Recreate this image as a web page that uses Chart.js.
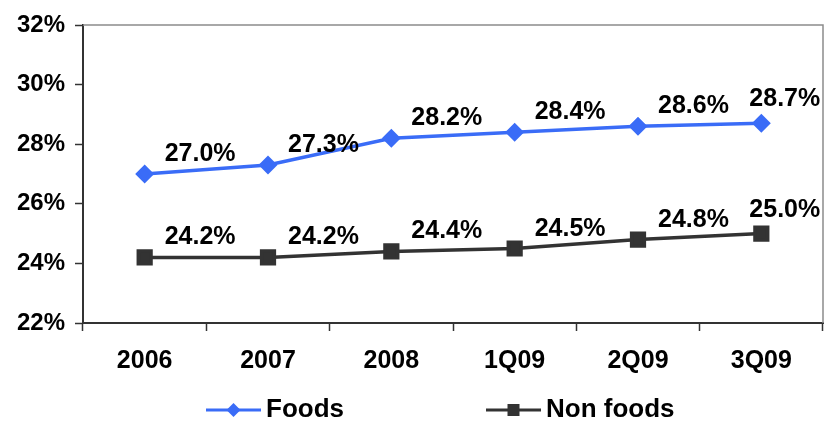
<!DOCTYPE html>
<html>
<head>
<meta charset="utf-8">
<script src="https://cdn.jsdelivr.net/npm/chart.js@4.4.1/dist/chart.umd.min.js"></script>
<style>
  html, body { margin: 0; padding: 0; background: #fff; }
  #wrap { width: 825px; height: 422px; }
</style>
</head>
<body>
<div id="wrap"><canvas id="myChart" width="825" height="422"></canvas></div>
<script>
// chart values
var periods = ['2006', '2007', '2008', '1Q09', '2Q09', '3Q09'];
var foods = [27.0, 27.3, 28.2, 28.4, 28.6, 28.7];
var nonFoods = [24.2, 24.2, 24.4, 24.5, 24.8, 25.0];
var yTicks = [22, 24, 26, 28, 30, 32];

var FONT = '"Liberation Sans", Arial, sans-serif';

// percent labels next to each point
var pointLabels = {
    id: 'pointLabels',
    afterDatasetsDraw: function(chart) {
        var ctx = chart.ctx;
        ctx.save();
        ctx.font = 'bold 25px ' + FONT;
        ctx.fillStyle = '#000';
        ctx.textAlign = 'left';
        ctx.textBaseline = 'alphabetic';
        chart.data.datasets.forEach(function(ds, i) {
            var meta = chart.getDatasetMeta(i);
            meta.data.forEach(function(pt, j) {
                var last = j == meta.data.length - 1;
                var dx = last ? -12 : 20;
                var dy = last ? -17 : -13;
                ctx.fillText(ds.data[j].toFixed(1) + '%', pt.x + dx, pt.y + dy);
            });
        });
        ctx.restore();
    }
};

// grey frame round the plot area
var plotFrame = {
    id: 'plotFrame',
    beforeDatasetsDraw: function(chart) {
        var a = chart.chartArea;
        var ctx = chart.ctx;
        ctx.save();
        ctx.strokeStyle = '#8c8c8c';
        ctx.lineWidth = 1.5;
        ctx.beginPath();
        ctx.moveTo(a.left, a.top);
        ctx.lineTo(a.right, a.top);
        ctx.lineTo(a.right, a.bottom);
        ctx.stroke();
        ctx.restore();
    }
};

// legend: line with marker, then name
var lineLegend = {
    id: 'lineLegend',
    afterDraw: function(chart) {
        var ctx = chart.ctx;
        var y = 410;
        var items = [{x: 206, ds: chart.data.datasets[0]}, {x: 486, ds: chart.data.datasets[1]}];
        ctx.save();
        items.forEach(function(it) {
            var cx = it.x + 27.5;
            ctx.strokeStyle = it.ds.borderColor;
            ctx.fillStyle = it.ds.borderColor;
            ctx.lineWidth = 3;
            ctx.beginPath();
            ctx.moveTo(it.x, y);
            ctx.lineTo(it.x + 55, y);
            ctx.stroke();
            ctx.beginPath();
            if (it.ds.pointStyle == 'rect') {
                ctx.rect(cx - 6, y - 6, 12, 12);
            } else {
                ctx.moveTo(cx, y - 7);
                ctx.lineTo(cx + 7, y);
                ctx.lineTo(cx, y + 7);
                ctx.lineTo(cx - 7, y);
                ctx.closePath();
            }
            ctx.fill();
            ctx.fillStyle = '#000';
            ctx.font = 'bold 26px ' + FONT;
            ctx.textBaseline = 'middle';
            ctx.textAlign = 'left';
            ctx.fillText(it.ds.label, it.x + 60, y);
        });
        ctx.restore();
    }
};

var ctx = document.getElementById('myChart').getContext('2d');
var chart = new Chart(ctx, {
    type: 'line',
    data: {
        labels: periods,
        datasets: [{
            label: 'Foods',
            data: foods,
            borderColor: '#3a6cf7',
            backgroundColor: '#3a6cf7',
            borderWidth: 3.5,
            pointStyle: 'rectRot',
            pointRadius: 7,
            pointHoverRadius: 7,
            fill: false,
            tension: 0
        }, {
            label: 'Non foods',
            data: nonFoods,
            borderColor: '#333333',
            backgroundColor: '#333333',
            borderWidth: 3.5,
            pointStyle: 'rect',
            pointRadius: 9,
            pointHoverRadius: 9,
            fill: false,
            tension: 0
        }]
    },
    plugins: [plotFrame, pointLabels, lineLegend],
    options: {
        responsive: false,
        animation: false,
        layout: { autoPadding: false, padding: { top: 25, right: 2, left: 0, bottom: 0 } },
        plugins: {
            legend: { display: false },
            tooltip: { enabled: false }
        },
        scales: {
            x: {
                offset: true,
                grid: {
                    offset: true,
                    drawOnChartArea: false,
                    tickLength: 8,
                    tickColor: '#333',
                    tickWidth: 1.5
                },
                border: { color: '#333', width: 2 },
                ticks: {
                    color: '#000',
                    padding: 15,
                    font: { family: FONT, size: 25, weight: 'bold' }
                },
                afterFit: function(scale) {
                    scale.height = 99;
                    scale.paddingLeft = 0;
                    scale.paddingRight = 0;
                }
            },
            y: {
                min: 22,
                max: 32,
                afterBuildTicks: function(scale) {
                    scale.ticks = yTicks.map(function(v) { return {value: v}; });
                },
                grid: {
                    drawOnChartArea: false,
                    tickLength: 8,
                    tickColor: '#333',
                    tickWidth: 1.5
                },
                border: { color: '#333', width: 2 },
                ticks: {
                    color: '#000',
                    padding: 10,
                    font: { family: FONT, size: 24, weight: 'bold' },
                    callback: function(v) { return v + '%'; }
                },
                afterFit: function(scale) { scale.width = 83; }
            }
        }
    }
});
</script>
</body>
</html>
